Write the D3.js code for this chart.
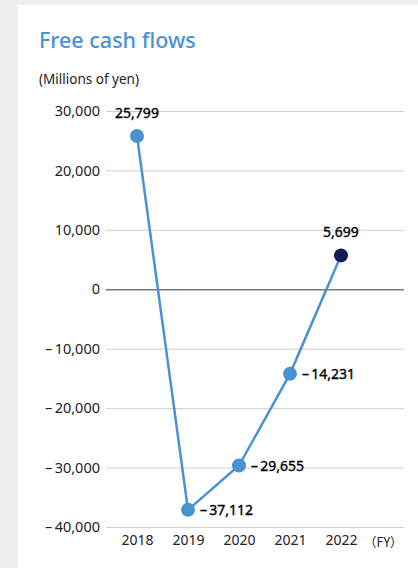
<!DOCTYPE html>
<html><head><meta charset="utf-8">
<script src="https://cdn.jsdelivr.net/npm/d3@7"></script>
<style>
html,body{margin:0;padding:0;background:#efefef;}
svg{display:block;}
</style></head>
<body>
<script>
const years = ["2018","2019","2020","2021","2022"];
const values = [25799, -37112, -29655, -14231, 5699];
const yTicks = [30000, 20000, 10000, 0, -10000, -20000, -30000, -40000];
const labelPos = ["top","right","right","right","top"];

const W = 418, H = 568;
const svg = d3.select("body").append("svg").attr("width", W).attr("height", H);
svg.append("rect").attr("x",18).attr("y",5).attr("width",W-18).attr("height",H-5).attr("fill","#fff");

const font = "'Noto Sans', 'Open Sans', sans-serif";
svg.append("text").attr("x",39).attr("y",48).text("Free cash flows")
  .attr("font-family",font).attr("font-size",21.5).attr("font-weight",500).attr("fill","#4a92d2");
svg.append("text").attr("x",39).attr("y",84).text("(Millions of yen)")
  .attr("font-family",font).attr("font-size",13.5).attr("fill","#222");

const y = d3.scaleLinear().domain([-40000, 30000]).range([527, 111]);
const x = d3.scalePoint().domain(years).range([137, 341]);
const fmt = v => (v < 0 ? "\u2013\u2009" : "") + d3.format(",")(Math.abs(v));

const gx0 = 106, gx1 = 404;
const yAxis = d3.axisLeft(y).tickValues(yTicks).tickSize(-(gx1-gx0)).tickPadding(6).tickFormat(fmt);
const ga = svg.append("g").attr("transform",`translate(${gx0},0)`).call(yAxis);
ga.select(".domain").remove();
ga.selectAll(".tick line").attr("stroke", d => d===0 ? "#777" : "#cfcfcf").attr("stroke-width", d => d===0 ? 1.6 : 1);
ga.selectAll(".tick text").attr("font-family",font).attr("font-size",14.5).attr("fill","#222").attr("x",-6);

const xAxis = d3.axisBottom(x).tickSize(0).tickPadding(0);
const gb = svg.append("g").attr("transform","translate(0,533)").call(xAxis);
gb.select(".domain").remove();
gb.selectAll(".tick text").attr("font-family",font).attr("font-size",14).attr("fill","#222").attr("dy","0.85em");
svg.append("text").attr("x",364).attr("y",547).text("（FY）")
  .attr("font-family","'Noto Sans CJK JP', sans-serif").attr("font-size",12.5).attr("fill","#222");

const data = years.map((yr,i)=>({yr, v: values[i], pos: labelPos[i], last: i===years.length-1}));
const line = d3.line().x(d=>x(d.yr)).y(d=>y(d.v));
svg.append("path").datum(data).attr("d",line).attr("fill","none").attr("stroke","#4a92d2").attr("stroke-width",2.5);
svg.selectAll("circle.pt").data(data).join("circle").attr("class","pt")
  .attr("cx",d=>x(d.yr)).attr("cy",d=>y(d.v)).attr("r",7)
  .attr("fill",d=>d.last ? "#141a5a" : "#4a92d2");
svg.selectAll("text.lbl").data(data).join("text").attr("class","lbl")
  .attr("x",d=> d.pos==="top" ? x(d.yr) : x(d.yr)+12)
  .attr("y",d=> d.pos==="top" ? y(d.v)-18 : y(d.v)+5)
  .attr("text-anchor",d=> d.pos==="top" ? "middle" : "start")
  .attr("font-family",font).attr("font-size",14).attr("font-weight",400).attr("fill","#000")
  .attr("stroke","#000").attr("stroke-width",0.35)
  .text(d=>fmt(d.v));
</script>
</body></html>
